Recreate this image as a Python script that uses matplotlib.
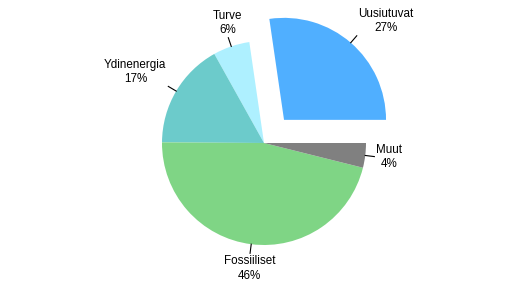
import numpy as np
import matplotlib.pyplot as plt

# Energy sources, shares in percent
labels = ['Uusiutuvat', 'Turve', 'Ydinenergia', 'Fossiiliset', 'Muut']
shares = [27.3, 5.8, 16.8, 46.2, 3.9]
colors = ['#50AFFF', '#AEF0FF', '#6CCBCB', '#7FD585', '#808080']
explode = [0.30, 0, 0, 0, 0]  # fraction of radius

plt.rcParams['font.family'] = ['Liberation Sans', 'DejaVu Sans']

fig = plt.figure(figsize=(5.28, 2.85), dpi=100)
ax = fig.add_axes([0, 0, 1, 1])

cx, cy, r = 264, 142, 102
# pie offsets wedges in data units, so scale the explode by the radius
wedges, _ = ax.pie(shares, explode=[e * r for e in explode], colors=colors,
                   startangle=0, counterclock=True, center=(cx, cy), radius=r,
                   wedgeprops=dict(linewidth=0))

ax.set_xlim(0, 528)
ax.set_ylim(0, 285)
ax.set_aspect('equal')
ax.axis('off')

# Labels with short leader lines
for w, name, v in zip(wedges, labels, shares):
    mid = np.deg2rad((w.theta1 + w.theta2) / 2)
    c, s = np.cos(mid), np.sin(mid)
    x0, y0 = w.center
    ax.plot([x0 + r * c, x0 + r * 1.09 * c], [y0 + r * s, y0 + r * 1.09 * s],
            color='black', lw=0.8)
    ha = 'center' if abs(c) < 0.35 else ('left' if c > 0 else 'right')
    va = 'center' if abs(s) < 0.35 else ('bottom' if s > 0 else 'top')
    ax.text(x0 + r * 1.11 * c, y0 + r * 1.11 * s, f'{name}\n{round(v)}%',
            ha=ha, va=va, multialignment='center', fontsize=8.4,
            linespacing=1.25)

fig.savefig('out.png', dpi=100, facecolor='white')
